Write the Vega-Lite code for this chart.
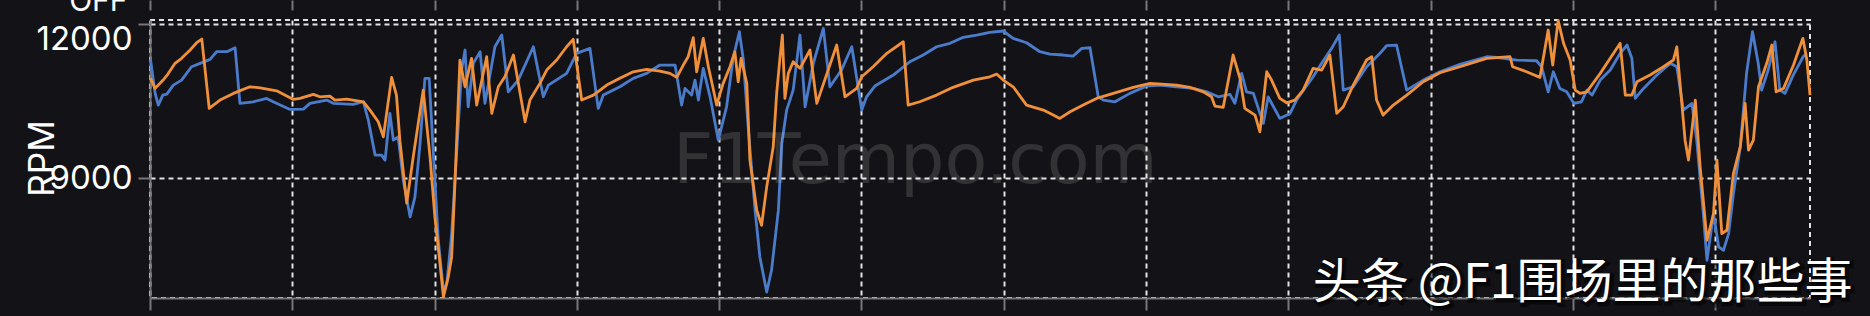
{
  "$schema": "https://vega.github.io/schema/vega-lite/v6.json",
  "width": 1660,
  "height": 278,
  "autosize": {"type": "none"},
  "padding": {"left": 150, "top": 20, "right": 60, "bottom": 18},
  "background": "#131317",
  "config": {
    "view": {"stroke": "#e2e2e2", "strokeDash": [5, 4], "strokeWidth": 2},
    "text": {"font": "Inter"}
  },
  "datasets": {
    "telemetry": [
      {"driver":"D1","dist":2,"rpm":11293},{"driver":"D1","dist":18,"rpm":10647},{"driver":"D1","dist":29,"rpm":10421},{"driver":"D1","dist":45,"rpm":10614},{"driver":"D1","dist":59,"rpm":10634},{"driver":"D1","dist":82,"rpm":10808},{"driver":"D1","dist":111,"rpm":10905},{"driver":"D1","dist":146,"rpm":11163},{"driver":"D1","dist":176,"rpm":11229},{"driver":"D1","dist":211,"rpm":11306},{"driver":"D1","dist":234,"rpm":11454},{"driver":"D1","dist":270,"rpm":11454},{"driver":"D1","dist":299,"rpm":11531},{"driver":"D1","dist":316,"rpm":10454},{"driver":"D1","dist":363,"rpm":10485},{"driver":"D1","dist":410,"rpm":10550},{"driver":"D1","dist":433,"rpm":10485},{"driver":"D1","dist":492,"rpm":10337},{"driver":"D1","dist":539,"rpm":10343},{"driver":"D1","dist":562,"rpm":10454},{"driver":"D1","dist":621,"rpm":10518},{"driver":"D1","dist":644,"rpm":10454},{"driver":"D1","dist":714,"rpm":10434},{"driver":"D1","dist":750,"rpm":10485},{"driver":"D1","dist":767,"rpm":10130},{"driver":"D1","dist":791,"rpm":9452},{"driver":"D1","dist":814,"rpm":9452},{"driver":"D1","dist":826,"rpm":9355},{"driver":"D1","dist":843,"rpm":10260},{"driver":"D1","dist":855,"rpm":9742},{"driver":"D1","dist":872,"rpm":9806},{"driver":"D1","dist":890,"rpm":8967},{"driver":"D1","dist":914,"rpm":8256},{"driver":"D1","dist":931,"rpm":8643},{"driver":"D1","dist":949,"rpm":9678},{"driver":"D1","dist":966,"rpm":10938},{"driver":"D1","dist":981,"rpm":10938},{"driver":"D1","dist":995,"rpm":9549},{"driver":"D1","dist":1013,"rpm":7804},{"driver":"D1","dist":1031,"rpm":6835},{"driver":"D1","dist":1043,"rpm":6965},{"driver":"D1","dist":1060,"rpm":7934},{"driver":"D1","dist":1078,"rpm":9549},{"driver":"D1","dist":1095,"rpm":11099},{"driver":"D1","dist":1107,"rpm":11487},{"driver":"D1","dist":1118,"rpm":10388},{"driver":"D1","dist":1136,"rpm":11229},{"driver":"D1","dist":1160,"rpm":11454},{"driver":"D1","dist":1177,"rpm":10454},{"driver":"D1","dist":1212,"rpm":11550},{"driver":"D1","dist":1236,"rpm":11777},{"driver":"D1","dist":1259,"rpm":10678},{"driver":"D1","dist":1294,"rpm":10905},{"driver":"D1","dist":1347,"rpm":11550},{"driver":"D1","dist":1382,"rpm":10581},{"driver":"D1","dist":1400,"rpm":10808},{"driver":"D1","dist":1464,"rpm":11035},{"driver":"D1","dist":1499,"rpm":11423},{"driver":"D1","dist":1546,"rpm":11519},{"driver":"D1","dist":1575,"rpm":10357},{"driver":"D1","dist":1593,"rpm":10614},{"driver":"D1","dist":1651,"rpm":10775},{"driver":"D1","dist":1698,"rpm":10938},{"driver":"D1","dist":1745,"rpm":11035},{"driver":"D1","dist":1792,"rpm":11196},{"driver":"D1","dist":1845,"rpm":11196},{"driver":"D1","dist":1868,"rpm":10421},{"driver":"D1","dist":1880,"rpm":10744},{"driver":"D1","dist":1903,"rpm":10614},{"driver":"D1","dist":1915,"rpm":10905},{"driver":"D1","dist":1927,"rpm":10518},{"driver":"D1","dist":1944,"rpm":11132},{"driver":"D1","dist":1968,"rpm":10581},{"driver":"D1","dist":1997,"rpm":9742},{"driver":"D1","dist":2026,"rpm":10388},{"driver":"D1","dist":2049,"rpm":11326},{"driver":"D1","dist":2071,"rpm":11841},{"driver":"D1","dist":2085,"rpm":11293},{"driver":"D1","dist":2102,"rpm":10000},{"driver":"D1","dist":2126,"rpm":8386},{"driver":"D1","dist":2143,"rpm":7481},{"driver":"D1","dist":2167,"rpm":6802},{"driver":"D1","dist":2184,"rpm":7223},{"driver":"D1","dist":2208,"rpm":8386},{"driver":"D1","dist":2220,"rpm":9678},{"driver":"D1","dist":2237,"rpm":10324},{"driver":"D1","dist":2260,"rpm":10711},{"driver":"D1","dist":2284,"rpm":11777},{"driver":"D1","dist":2302,"rpm":10388},{"driver":"D1","dist":2331,"rpm":11229},{"driver":"D1","dist":2366,"rpm":11907},{"driver":"D1","dist":2389,"rpm":10775},{"driver":"D1","dist":2430,"rpm":11099},{"driver":"D1","dist":2466,"rpm":11550},{"driver":"D1","dist":2501,"rpm":10324},{"driver":"D1","dist":2518,"rpm":10581},{"driver":"D1","dist":2547,"rpm":10789},{"driver":"D1","dist":2612,"rpm":11002},{"driver":"D1","dist":2670,"rpm":11260},{"driver":"D1","dist":2717,"rpm":11390},{"driver":"D1","dist":2764,"rpm":11550},{"driver":"D1","dist":2811,"rpm":11616},{"driver":"D1","dist":2858,"rpm":11733},{"driver":"D1","dist":2905,"rpm":11777},{"driver":"D1","dist":2951,"rpm":11830},{"driver":"D1","dist":2998,"rpm":11855},{"driver":"D1","dist":3033,"rpm":11713},{"driver":"D1","dist":3080,"rpm":11628},{"driver":"D1","dist":3127,"rpm":11454},{"driver":"D1","dist":3162,"rpm":11409},{"driver":"D1","dist":3209,"rpm":11390},{"driver":"D1","dist":3244,"rpm":11370},{"driver":"D1","dist":3274,"rpm":11519},{"driver":"D1","dist":3303,"rpm":11531},{"driver":"D1","dist":3332,"rpm":10581},{"driver":"D1","dist":3350,"rpm":10518},{"driver":"D1","dist":3391,"rpm":10485},{"driver":"D1","dist":3443,"rpm":10647},{"driver":"D1","dist":3502,"rpm":10789},{"driver":"D1","dist":3549,"rpm":10808},{"driver":"D1","dist":3607,"rpm":10775},{"driver":"D1","dist":3666,"rpm":10744},{"driver":"D1","dist":3713,"rpm":10678},{"driver":"D1","dist":3754,"rpm":10581},{"driver":"D1","dist":3795,"rpm":10628},{"driver":"D1","dist":3812,"rpm":10454},{"driver":"D1","dist":3836,"rpm":11035},{"driver":"D1","dist":3853,"rpm":10678},{"driver":"D1","dist":3877,"rpm":10647},{"driver":"D1","dist":3912,"rpm":10066},{"driver":"D1","dist":3929,"rpm":10581},{"driver":"D1","dist":3970,"rpm":10163},{"driver":"D1","dist":4006,"rpm":10260},{"driver":"D1","dist":4029,"rpm":10518},{"driver":"D1","dist":4087,"rpm":10969},{"driver":"D1","dist":4117,"rpm":11229},{"driver":"D1","dist":4152,"rpm":11519},{"driver":"D1","dist":4179,"rpm":11777},{"driver":"D1","dist":4193,"rpm":10711},{"driver":"D1","dist":4228,"rpm":10775},{"driver":"D1","dist":4275,"rpm":11163},{"driver":"D1","dist":4322,"rpm":11423},{"driver":"D1","dist":4345,"rpm":11570},{"driver":"D1","dist":4380,"rpm":11583},{"driver":"D1","dist":4416,"rpm":10711},{"driver":"D1","dist":4474,"rpm":10905},{"driver":"D1","dist":4533,"rpm":11066},{"driver":"D1","dist":4603,"rpm":11209},{"driver":"D1","dist":4697,"rpm":11357},{"driver":"D1","dist":4743,"rpm":11337},{"driver":"D1","dist":4802,"rpm":11293},{"driver":"D1","dist":4872,"rpm":11279},{"driver":"D1","dist":4890,"rpm":11163},{"driver":"D1","dist":4913,"rpm":10678},{"driver":"D1","dist":4931,"rpm":11066},{"driver":"D1","dist":4954,"rpm":10744},{"driver":"D1","dist":4978,"rpm":10678},{"driver":"D1","dist":5003,"rpm":10454},{"driver":"D1","dist":5030,"rpm":10485},{"driver":"D1","dist":5049,"rpm":10711},{"driver":"D1","dist":5067,"rpm":10614},{"driver":"D1","dist":5096,"rpm":10905},{"driver":"D1","dist":5131,"rpm":11099},{"driver":"D1","dist":5166,"rpm":11423},{"driver":"D1","dist":5190,"rpm":11583},{"driver":"D1","dist":5207,"rpm":11326},{"driver":"D1","dist":5219,"rpm":10550},{"driver":"D1","dist":5248,"rpm":10744},{"driver":"D1","dist":5295,"rpm":11002},{"driver":"D1","dist":5342,"rpm":11229},{"driver":"D1","dist":5365,"rpm":11163},{"driver":"D1","dist":5388,"rpm":10324},{"driver":"D1","dist":5418,"rpm":10454},{"driver":"D1","dist":5435,"rpm":9742},{"driver":"D1","dist":5459,"rpm":8256},{"driver":"D1","dist":5471,"rpm":7417},{"driver":"D1","dist":5494,"rpm":8322},{"driver":"D1","dist":5512,"rpm":7675},{"driver":"D1","dist":5529,"rpm":7611},{"driver":"D1","dist":5547,"rpm":7934},{"driver":"D1","dist":5564,"rpm":8709},{"driver":"D1","dist":5588,"rpm":9613},{"driver":"D1","dist":5610,"rpm":11035},{"driver":"D1","dist":5631,"rpm":11841},{"driver":"D1","dist":5651,"rpm":11229},{"driver":"D1","dist":5663,"rpm":10711},{"driver":"D1","dist":5686,"rpm":11099},{"driver":"D1","dist":5710,"rpm":11647},{"driver":"D1","dist":5727,"rpm":10711},{"driver":"D1","dist":5745,"rpm":10647},{"driver":"D1","dist":5774,"rpm":11002},{"driver":"D1","dist":5809,"rpm":11357},{"driver":"D1","dist":5821,"rpm":11423},
      {"driver":"D2","dist":2,"rpm":10938},{"driver":"D2","dist":18,"rpm":10744},{"driver":"D2","dist":46,"rpm":10905},{"driver":"D2","dist":63,"rpm":11021},{"driver":"D2","dist":88,"rpm":11229},{"driver":"D2","dist":111,"rpm":11326},{"driver":"D2","dist":141,"rpm":11487},{"driver":"D2","dist":164,"rpm":11628},{"driver":"D2","dist":182,"rpm":11700},{"driver":"D2","dist":208,"rpm":10357},{"driver":"D2","dist":246,"rpm":10518},{"driver":"D2","dist":293,"rpm":10647},{"driver":"D2","dist":351,"rpm":10775},{"driver":"D2","dist":387,"rpm":10756},{"driver":"D2","dist":445,"rpm":10698},{"driver":"D2","dist":504,"rpm":10531},{"driver":"D2","dist":527,"rpm":10550},{"driver":"D2","dist":574,"rpm":10628},{"driver":"D2","dist":597,"rpm":10581},{"driver":"D2","dist":632,"rpm":10595},{"driver":"D2","dist":650,"rpm":10518},{"driver":"D2","dist":691,"rpm":10537},{"driver":"D2","dist":750,"rpm":10485},{"driver":"D2","dist":773,"rpm":10324},{"driver":"D2","dist":802,"rpm":10097},{"driver":"D2","dist":820,"rpm":9806},{"driver":"D2","dist":849,"rpm":10957},{"driver":"D2","dist":866,"rpm":10614},{"driver":"D2","dist":878,"rpm":9742},{"driver":"D2","dist":902,"rpm":8521},{"driver":"D2","dist":925,"rpm":9419},{"driver":"D2","dist":960,"rpm":10711},{"driver":"D2","dist":984,"rpm":9419},{"driver":"D2","dist":1001,"rpm":8256},{"driver":"D2","dist":1019,"rpm":7353},{"driver":"D2","dist":1031,"rpm":6706},{"driver":"D2","dist":1048,"rpm":7093},{"driver":"D2","dist":1060,"rpm":7481},{"driver":"D2","dist":1072,"rpm":8967},{"driver":"D2","dist":1089,"rpm":11293},{"driver":"D2","dist":1107,"rpm":10775},{"driver":"D2","dist":1130,"rpm":11326},{"driver":"D2","dist":1148,"rpm":10421},{"driver":"D2","dist":1183,"rpm":11357},{"driver":"D2","dist":1201,"rpm":10260},{"driver":"D2","dist":1224,"rpm":10775},{"driver":"D2","dist":1247,"rpm":10969},{"driver":"D2","dist":1277,"rpm":11390},{"driver":"D2","dist":1318,"rpm":10097},{"driver":"D2","dist":1335,"rpm":10518},{"driver":"D2","dist":1370,"rpm":10841},{"driver":"D2","dist":1394,"rpm":11099},{"driver":"D2","dist":1429,"rpm":11293},{"driver":"D2","dist":1464,"rpm":11550},{"driver":"D2","dist":1487,"rpm":11694},{"driver":"D2","dist":1517,"rpm":10518},{"driver":"D2","dist":1558,"rpm":10614},{"driver":"D2","dist":1605,"rpm":10808},{"driver":"D2","dist":1651,"rpm":10938},{"driver":"D2","dist":1698,"rpm":11066},{"driver":"D2","dist":1745,"rpm":11112},{"driver":"D2","dist":1792,"rpm":11080},{"driver":"D2","dist":1827,"rpm":11035},{"driver":"D2","dist":1851,"rpm":10957},{"driver":"D2","dist":1874,"rpm":11196},{"driver":"D2","dist":1891,"rpm":11357},{"driver":"D2","dist":1909,"rpm":11725},{"driver":"D2","dist":1921,"rpm":11066},{"driver":"D2","dist":1944,"rpm":11713},{"driver":"D2","dist":1962,"rpm":11163},{"driver":"D2","dist":1985,"rpm":10581},{"driver":"D2","dist":1991,"rpm":10421},{"driver":"D2","dist":2014,"rpm":10841},{"driver":"D2","dist":2038,"rpm":11163},{"driver":"D2","dist":2055,"rpm":11454},{"driver":"D2","dist":2067,"rpm":10872},{"driver":"D2","dist":2077,"rpm":11326},{"driver":"D2","dist":2097,"rpm":10841},{"driver":"D2","dist":2108,"rpm":9355},{"driver":"D2","dist":2132,"rpm":8386},{"driver":"D2","dist":2149,"rpm":8095},{"driver":"D2","dist":2167,"rpm":8837},{"driver":"D2","dist":2190,"rpm":9613},{"driver":"D2","dist":2202,"rpm":10647},{"driver":"D2","dist":2214,"rpm":11357},{"driver":"D2","dist":2222,"rpm":11777},{"driver":"D2","dist":2231,"rpm":10550},{"driver":"D2","dist":2243,"rpm":11035},{"driver":"D2","dist":2260,"rpm":11260},{"driver":"D2","dist":2284,"rpm":11132},{"driver":"D2","dist":2319,"rpm":11487},{"driver":"D2","dist":2343,"rpm":10454},{"driver":"D2","dist":2413,"rpm":11583},{"driver":"D2","dist":2442,"rpm":10581},{"driver":"D2","dist":2483,"rpm":10744},{"driver":"D2","dist":2501,"rpm":10969},{"driver":"D2","dist":2541,"rpm":11163},{"driver":"D2","dist":2589,"rpm":11423},{"driver":"D2","dist":2647,"rpm":11647},{"driver":"D2","dist":2664,"rpm":10421},{"driver":"D2","dist":2705,"rpm":10485},{"driver":"D2","dist":2764,"rpm":10614},{"driver":"D2","dist":2822,"rpm":10764},{"driver":"D2","dist":2893,"rpm":10905},{"driver":"D2","dist":2951,"rpm":10969},{"driver":"D2","dist":2975,"rpm":11021},{"driver":"D2","dist":2998,"rpm":10905},{"driver":"D2","dist":3033,"rpm":10775},{"driver":"D2","dist":3080,"rpm":10421},{"driver":"D2","dist":3139,"rpm":10324},{"driver":"D2","dist":3174,"rpm":10227},{"driver":"D2","dist":3197,"rpm":10163},{"driver":"D2","dist":3233,"rpm":10291},{"driver":"D2","dist":3279,"rpm":10421},{"driver":"D2","dist":3326,"rpm":10550},{"driver":"D2","dist":3385,"rpm":10647},{"driver":"D2","dist":3455,"rpm":10764},{"driver":"D2","dist":3514,"rpm":10841},{"driver":"D2","dist":3607,"rpm":10808},{"driver":"D2","dist":3654,"rpm":10764},{"driver":"D2","dist":3701,"rpm":10678},{"driver":"D2","dist":3730,"rpm":10581},{"driver":"D2","dist":3742,"rpm":10401},{"driver":"D2","dist":3771,"rpm":10376},{"driver":"D2","dist":3806,"rpm":11390},{"driver":"D2","dist":3830,"rpm":10938},{"driver":"D2","dist":3847,"rpm":10357},{"driver":"D2","dist":3883,"rpm":10227},{"driver":"D2","dist":3900,"rpm":9903},{"driver":"D2","dist":3924,"rpm":11066},{"driver":"D2","dist":3941,"rpm":10905},{"driver":"D2","dist":3970,"rpm":10550},{"driver":"D2","dist":3994,"rpm":10465},{"driver":"D2","dist":4023,"rpm":10518},{"driver":"D2","dist":4052,"rpm":10711},{"driver":"D2","dist":4087,"rpm":11132},{"driver":"D2","dist":4117,"rpm":11099},{"driver":"D2","dist":4146,"rpm":11390},{"driver":"D2","dist":4170,"rpm":10260},{"driver":"D2","dist":4193,"rpm":10388},{"driver":"D2","dist":4228,"rpm":10808},{"driver":"D2","dist":4275,"rpm":11293},{"driver":"D2","dist":4293,"rpm":11357},{"driver":"D2","dist":4310,"rpm":10518},{"driver":"D2","dist":4333,"rpm":10227},{"driver":"D2","dist":4369,"rpm":10421},{"driver":"D2","dist":4416,"rpm":10614},{"driver":"D2","dist":4474,"rpm":10872},{"driver":"D2","dist":4533,"rpm":11047},{"driver":"D2","dist":4603,"rpm":11163},{"driver":"D2","dist":4697,"rpm":11326},{"driver":"D2","dist":4779,"rpm":11357},{"driver":"D2","dist":4788,"rpm":11163},{"driver":"D2","dist":4837,"rpm":11066},{"driver":"D2","dist":4884,"rpm":10957},{"driver":"D2","dist":4913,"rpm":11874},{"driver":"D2","dist":4929,"rpm":11196},{"driver":"D2","dist":4948,"rpm":12060},{"driver":"D2","dist":4967,"rpm":11616},{"driver":"D2","dist":4990,"rpm":11293},{"driver":"D2","dist":5008,"rpm":10711},{"driver":"D2","dist":5025,"rpm":10647},{"driver":"D2","dist":5049,"rpm":10678},{"driver":"D2","dist":5096,"rpm":11035},{"driver":"D2","dist":5131,"rpm":11326},{"driver":"D2","dist":5166,"rpm":11616},{"driver":"D2","dist":5184,"rpm":10614},{"driver":"D2","dist":5207,"rpm":10614},{"driver":"D2","dist":5225,"rpm":10872},{"driver":"D2","dist":5271,"rpm":11002},{"driver":"D2","dist":5318,"rpm":11163},{"driver":"D2","dist":5353,"rpm":11293},{"driver":"D2","dist":5365,"rpm":11550},{"driver":"D2","dist":5394,"rpm":9742},{"driver":"D2","dist":5406,"rpm":9355},{"driver":"D2","dist":5430,"rpm":10518},{"driver":"D2","dist":5447,"rpm":9225},{"driver":"D2","dist":5471,"rpm":7804},{"driver":"D2","dist":5494,"rpm":8322},{"driver":"D2","dist":5506,"rpm":9355},{"driver":"D2","dist":5523,"rpm":7934},{"driver":"D2","dist":5541,"rpm":7998},{"driver":"D2","dist":5564,"rpm":9097},{"driver":"D2","dist":5588,"rpm":9613},{"driver":"D2","dist":5605,"rpm":10454},{"driver":"D2","dist":5617,"rpm":9549},{"driver":"D2","dist":5634,"rpm":9742},{"driver":"D2","dist":5652,"rpm":10775},{"driver":"D2","dist":5681,"rpm":11229},{"driver":"D2","dist":5699,"rpm":11583},{"driver":"D2","dist":5714,"rpm":10678},{"driver":"D2","dist":5740,"rpm":10744},{"driver":"D2","dist":5775,"rpm":11196},{"driver":"D2","dist":5808,"rpm":11713},{"driver":"D2","dist":5822,"rpm":11293},{"driver":"D2","dist":5833,"rpm":10614}
    ],
    "watermark": [
      {"label": "F1Tempo.com", "dist": 1838, "rpm": 8909}
    ],
    "credit": [
      {"label": "头条", "part": "bold", "dist": 4086, "rpm": 6690},
      {"label": "@F1围场里的那些事", "part": "regular", "dist": 4455, "rpm": 6690}
    ]
  },
  "resolve": {"axis": {"x": "independent"}},
  "layer": [
    {
      "data": {"name": "telemetry"},
      "mark": {"type": "line", "strokeWidth": 2.8, "strokeJoin": "round", "clip": false},
      "encoding": {
        "x": {"field": "dist", "type": "quantitative", "scale": {"domain": [0, 5833], "nice": false, "zero": false},
          "axis": {"orient": "bottom", "values": [0,500,1000,1500,2000,2500,3000,3500,4000,4500,5000,5500], "labels": false, "title": null,
            "grid": true, "gridColor": "#e2e2e2", "gridDash": [5, 4], "gridWidth": 2,
            "tickSize": 12, "tickWidth": 2, "tickColor": "#777777", "domainColor": "#777777", "domainWidth": 2}},
        "y": {"field": "rpm", "type": "quantitative", "scale": {"domain": [6686, 12068], "nice": false, "zero": false},
          "axis": {"orient": "left", "values": [9000, 12000], "format": "d", "grid": true, "gridColor": "#e2e2e2", "gridDash": [5, 4], "gridWidth": 2,
            "tickSize": 12, "tickWidth": 2, "tickColor": "#777777", "domainColor": "#777777", "domainWidth": 2,
            "labelColor": "#ffffff", "labelFont": "Inter", "labelFontSize": 33, "labelPadding": 6, "labelFlush": 10,
            "title": "RPM", "titleColor": "#ffffff", "titleFont": "Inter", "titleFontSize": 35, "titleFontWeight": "normal",
            "titleX": -97, "titleY": 138, "titleBaseline": "alphabetic"}},
        "color": {"field": "driver", "type": "nominal", "scale": {"domain": ["D1", "D2"], "range": ["#4b7ccc", "#f0903a"]}, "legend": null},
        "order": {"field": "dist", "type": "quantitative"}
      }
    },
    {
      "data": {"name": "watermark"},
      "mark": {"type": "text", "font": "DejaVu Sans", "fontSize": 70, "align": "left", "baseline": "alphabetic", "color": "#ffffff", "opacity": 0.13},
      "encoding": {
        "x": {"field": "dist", "type": "quantitative", "scale": {"domain": [0, 5833], "nice": false, "zero": false},
          "axis": {"orient": "top", "values": [0,500,1000,1500,2000,2500,3000,3500,4000,4500,5000,5500], "offset": 10, "tickSize": 10, "tickWidth": 2, "tickColor": "#777777", "domain": false, "labels": false, "grid": false,
            "title": "OFF", "titleColor": "#ffffff", "titleFont": "Inter", "titleFontSize": 30, "titleFontWeight": "normal", "titleAngle": 0, "titleAlign": "right", "titleBaseline": "alphabetic", "titleX": -23, "titleY": 0}},
        "y": {"field": "rpm", "type": "quantitative", "scale": {"domain": [6686, 12068], "nice": false, "zero": false}},
        "text": {"field": "label"}
      }
    },
    {
      "data": {"name": "credit"},
      "mark": {"type": "text", "font": "Noto Sans CJK SC", "fontSize": 48, "align": "left", "baseline": "alphabetic", "color": "#000000", "stroke": "#000000", "strokeWidth": 5, "strokeOpacity": 0.6, "opacity": 0.8, "dx": 2, "dy": 2},
      "encoding": {
        "x": {"field": "dist", "type": "quantitative", "scale": {"domain": [0, 5833], "nice": false, "zero": false}, "axis": null},
        "y": {"field": "rpm", "type": "quantitative", "scale": {"domain": [6686, 12068], "nice": false, "zero": false}},
        "text": {"field": "label"},
        "fontWeight": {"field": "part", "type": "nominal", "scale": {"domain": ["bold", "regular"], "range": ["bold", "normal"]}, "legend": null}
      }
    },
    {
      "data": {"name": "credit"},
      "mark": {"type": "text", "font": "Noto Sans CJK SC", "fontSize": 48, "align": "left", "baseline": "alphabetic", "color": "#ffffff"},
      "encoding": {
        "x": {"field": "dist", "type": "quantitative", "scale": {"domain": [0, 5833], "nice": false, "zero": false}, "axis": null},
        "y": {"field": "rpm", "type": "quantitative", "scale": {"domain": [6686, 12068], "nice": false, "zero": false}},
        "text": {"field": "label"},
        "fontWeight": {"field": "part", "type": "nominal", "scale": {"domain": ["bold", "regular"], "range": ["bold", "normal"]}, "legend": null}
      }
    }
  ]
}
